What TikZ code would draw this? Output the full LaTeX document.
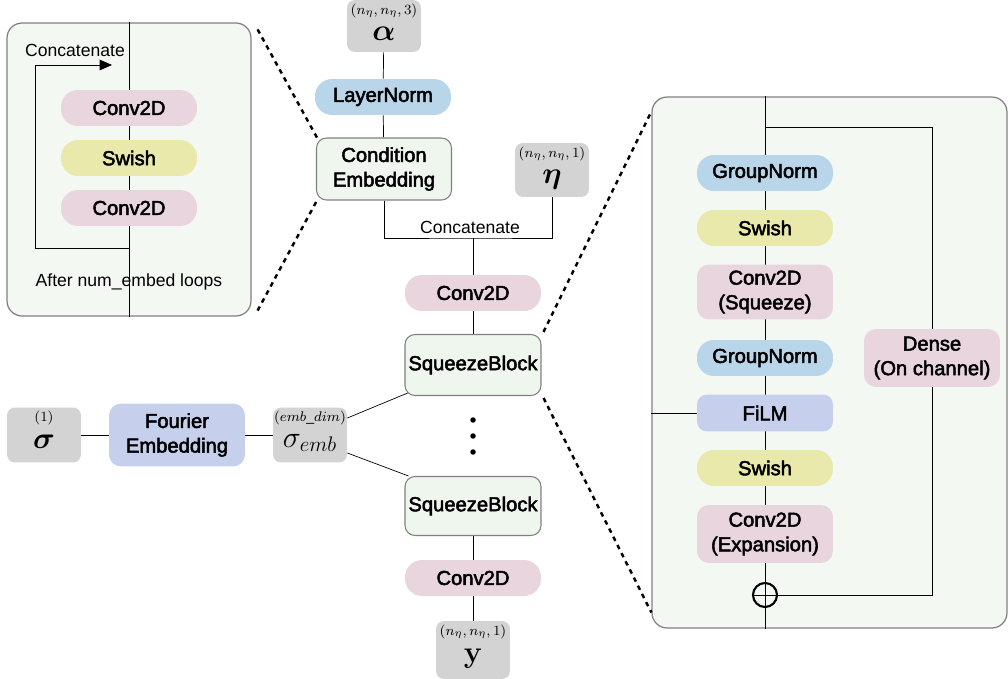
\documentclass[tikz,border=0pt]{standalone}
\usepackage{amsmath,bm}
\usepackage[no-math]{fontspec}
\setmainfont{Liberation Sans}
\newfontfamily\boxfont[FakeBold=2.5]{Liberation Sans}
\usetikzlibrary{arrows.meta}
\pgfdeclarelayer{panel}
\pgfdeclarelayer{lines}
\pgfsetlayers{panel,lines,main}
\definecolor{pinkc}{HTML}{E9D5DD}
\definecolor{yellowc}{HTML}{E9E9AC}
\definecolor{bluec}{HTML}{B9D5EA}
\definecolor{lavc}{HTML}{C6CFEB}
\definecolor{grayc}{HTML}{D3D3D3}
\definecolor{panelc}{HTML}{F3F8F3}
\definecolor{greenc}{HTML}{EEF6EE}
\definecolor{borderc}{HTML}{808080}
\begin{document}
\begin{tikzpicture}[x=0.02cm,y=-0.02cm, line width=1.2pt,
  boxtext/.style={font=\boxfont\fontsize{11.5}{14}\selectfont, align=center, inner sep=0pt},
  pill/.style={boxtext, rounded corners=0.34cm, minimum width=2.72cm, minimum height=0.72cm},
  tall/.style={boxtext, rounded corners=0.24cm, minimum width=2.72cm},
  gbox/.style={fill=grayc, rounded corners=0.16cm, minimum width=1.48cm, minimum height=1.1cm, inner sep=0pt},
  dimlbl/.style={font=\footnotesize, inner sep=0pt, anchor=north},
  symlbl/.style={font=\fontsize{18}{20}\selectfont, inner sep=0pt, anchor=base},
  gblock/.style={boxtext, fill=greenc, draw=borderc, line width=0.6pt, rounded corners=0.2cm, minimum width=2.72cm, minimum height=1.22cm},
  panelbox/.style={fill=panelc, draw=borderc, line width=0.7pt, rounded corners=0.3cm, inner sep=0pt},
  lbl/.style={font=\fontsize{10}{12}\selectfont, inner sep=0pt},
  dotline/.style={line width=1.4pt, dash pattern=on 2.6pt off 2.6pt},
  arr/.style={-{Triangle[length=7pt,width=6pt]}}
]
\useasboundingbox (0,0) rectangle (1008,679);

% panels
\begin{pgfonlayer}{panel}
\node[panelbox, minimum width=4.88cm, minimum height=5.86cm] (lp) at (129,169.5) {};
\node[panelbox, minimum width=7.1cm, minimum height=10.62cm] (rp) at (829.5,362.5) {};
\end{pgfonlayer}

% left panel
\node[pill, fill=pinkc] (lc1) at (129,108) {Conv2D};
\node[pill, fill=yellowc] (lsw) at (129,158) {Swish};
\node[pill, fill=pinkc] (lc2) at (129,208) {Conv2D};
\node[lbl] (lcat) at (75,50) {Concatenate};
\node[lbl] (lafter) at (129,282) {After num\_embed loops};
\coordinate (lj) at (129,248);
\coordinate (lt) at (112,65);

% centre column
\node[gbox, minimum height=1.04cm] (alpha) at (384,26) {};
\node[dimlbl] (alphad) at ([yshift=-0.07cm]alpha.north) {$(n_\eta, n_\eta, 3)$};
\node[symlbl] (alphas) at (384,41) {$\bm{\alpha}$};
\node[pill, fill=bluec] (ln) at (383,97) {LayerNorm};
\node[gblock, minimum width=2.7cm, minimum height=1.24cm] (ce) at (384,169) {Condition\\Embedding};
\node[gbox, minimum height=1.08cm] (eta) at (552,170) {};
\node[dimlbl] (etad) at ([yshift=-0.07cm]eta.north) {$(n_\eta, n_\eta, 1)$};
\node[symlbl] (etas) at (552,183) {$\bm{\eta}$};
\coordinate (cj) at (473,238);
\node[lbl] (ccat) at (470,227) {Concatenate};
\node[pill, fill=pinkc] (conv1) at (473,293) {Conv2D};
\node[gblock] (sq1) at (473,365) {SqueezeBlock};
\node[gblock, minimum height=1.18cm] (sq2) at (473,506) {SqueezeBlock};
\node[pill, fill=pinkc] (conv2) at (473,578) {Conv2D};
\node[gbox, minimum height=1.16cm] (yout) at (473,650) {};
\node[dimlbl] (youtd) at ([yshift=-0.07cm]yout.north) {$(n_\eta, n_\eta, 1)$};
\node[symlbl] (youts) at (473,662) {$\mathbf{y}$};
\fill (473,420) circle (0.055cm);
\fill (473,436) circle (0.055cm);
\fill (473,452) circle (0.055cm);

% sigma row
\node[gbox] (sigma) at (44,435) {};
\node[dimlbl] (sigmad) at ([yshift=-0.07cm]sigma.north) {$(1)$};
\node[symlbl] (sigmas) at (44,448) {$\bm{\sigma}$};
\node[tall, fill=lavc, minimum height=1.26cm] (fe) at (177,435) {Fourier\\Embedding};
\node[gbox] (semb) at (310,435) {};
\node[dimlbl] (sembd) at ([yshift=-0.07cm]semb.north) {$(emb\_dim)$};
\node[symlbl] (sembs) at (310,447) {$\sigma_{emb}$};

% right panel
\node[pill, fill=bluec] (gn1) at (765,173) {GroupNorm};
\node[pill, fill=yellowc] (sw1) at (765,228) {Swish};
\node[tall, fill=pinkc, minimum height=1.1cm] (cs) at (765,292) {Conv2D\\(Squeeze)};
\node[pill, fill=bluec] (gn2) at (765,358) {GroupNorm};
\node[tall, fill=lavc, minimum height=0.74cm, rounded corners=0.2cm] (film) at (765,413) {FiLM};
\node[pill, fill=yellowc] (sw2) at (765,468) {Swish};
\node[tall, fill=pinkc, minimum height=1.16cm] (cex) at (765,534) {Conv2D\\(Expansion)};
\node[tall, fill=pinkc, minimum height=1.16cm] (dense) at (932,358) {Dense\\(On channel)};
\node[circle, draw, line width=1.2pt, minimum size=0.48cm, inner sep=0pt] (plus) at (765,595) {};
\coordinate (sk) at (765,127);

\begin{pgfonlayer}{lines}
% left panel
\draw (lp.north) -- (lp.south);
\draw[arr] (lj) -- (35,248) -- (35,65) -- (lt);
% centre
\draw (alpha) -- (ln);
\draw (ln) -- (ce);
\draw (ce.south) |- (cj) -| (eta.south);
\draw (cj) -- (conv1);
\draw (conv1) -- (sq1);
\draw (sq2) -- (conv2);
\draw (conv2) -- (yout);
% sigma
\draw (sigma) -- (fe);
\draw (fe) -- (semb);
\draw ([yshift=0.34cm]semb.east) -- ([xshift=0.16cm,yshift=0.1cm]sq1.south west);
\draw ([yshift=-0.36cm]semb.east) -- ([xshift=0.08cm]sq2.north west);
% right panel
\draw (rp.north -| gn1) -- (rp.south -| gn1);
\draw (sk) -| (dense.north);
\draw (dense.south) |- (plus.east);
\draw (rp.west |- film) -- (film.west);
\draw (plus.west) -- (plus.east);
% zoom lines
\draw[dotline] ([xshift=0.12cm,yshift=-0.14cm]lp.north east) -- ([xshift=0.04cm,yshift=-0.04cm]ce.north west);
\draw[dotline] ([xshift=0.12cm,yshift=0.12cm]lp.south east) -- ([xshift=0.04cm,yshift=0.04cm]ce.south west);
\draw[dotline] ([xshift=0.04cm,yshift=0.04cm]sq1.north east) -- ([yshift=-0.3cm]rp.north west);
\draw[dotline] ([xshift=0.04cm,yshift=-0.04cm]sq1.south east) -- ([yshift=0.32cm]rp.south west);
\end{pgfonlayer}
\end{tikzpicture}
\end{document}
